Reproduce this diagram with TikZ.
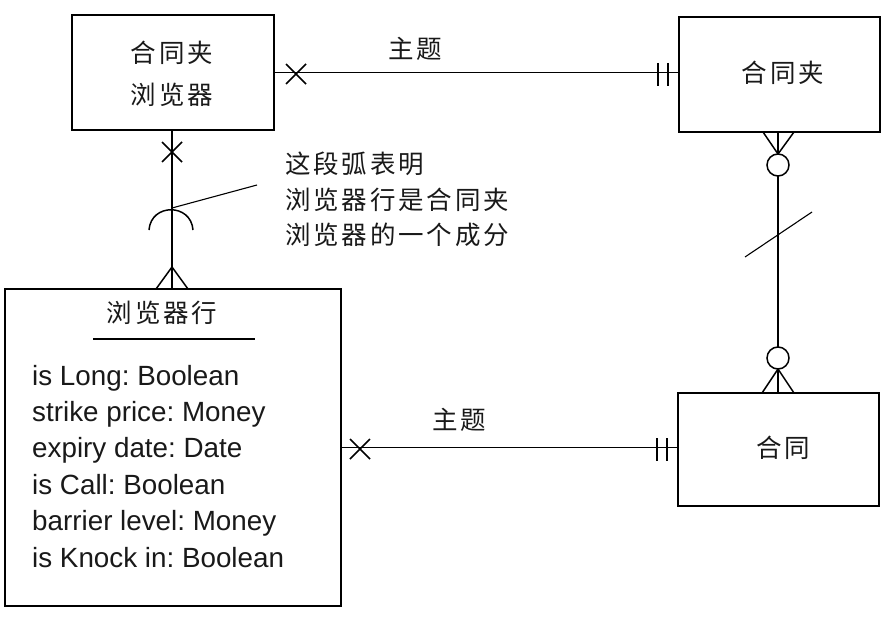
\documentclass[tikz,border=0pt]{standalone}
\usepackage{fontspec}
\setmainfont{Liberation Sans}
\newfontfamily\cjk[LetterSpace=11]{Noto Sans CJK SC}
\frenchspacing
\begin{document}
\begin{tikzpicture}[x=1pt,y=-1pt,
  ent/.style={draw,line width=1.7pt,rectangle,inner sep=0pt},
  cn/.style={font=\cjk\fontsize{25.5}{28}\selectfont,inner sep=0pt,text=black!90},
  attr/.style={font=\fontsize{27.8}{33}\selectfont,anchor=base west,inner sep=0pt,text=black!90},
  conn/.style={line width=1.5pt},
  mk/.style={line width=1.5pt}]
\useasboundingbox (0,0) rectangle (888,618);
% entities
\node[ent,minimum width=202pt,minimum height=115pt] (b1) at (173,72.5) {};
\node[ent,minimum width=201pt,minimum height=115pt] (b2) at (779.5,74.5) {};
\node[ent,minimum width=201pt,minimum height=113pt] (b3) at (778.5,449.5) {};
\node[ent,minimum width=336pt,minimum height=317pt] (b4) at (173,447.5) {};
% texts
\node[cn] (t1a) at (172,53) {合同夹};
\node[cn] (t1b) at (172,95) {浏览器};
\node[cn] (t2) at (783,73) {合同夹};
\node[cn] (t3) at (783,448) {合同};
\node[cn] (t4) at (162,313) {浏览器行};
\draw[line width=1.6pt] (93,339) -- (255,339);
\foreach \t [count=\i] in {is Long: Boolean,strike price: Money,expiry date: Date,is Call: Boolean,barrier level: Money,is Knock in: Boolean}
  \node[attr] (a\i) at (32,{385+36.4*(\i-1)}) {\t};
% labels
\node[cn] (l1) at (415,49) {主题};
\node[cn] (l2) at (459,420) {主题};
\node[cn,anchor=west] (n1) at (285,164) {这段弧表明};
\node[cn,anchor=west] (n2) at (285,200) {浏览器行是合同夹};
\node[cn,anchor=west] (n3) at (285,235) {浏览器的一个成分};
% connectors
\draw[conn] (b1.east) -- (b1.east -| b2.west);
\draw[conn] (b4.east) -- (b4.east -| b3.west);
\draw[conn] (b1.south -| 172,0) -- (b4.north -| 172,0);
\draw[conn] (b2.south -| 778,0) -- (b3.north -| 778,0);
% top connector markers
\draw[mk] (286,64) -- (306,84) (286,84) -- (306,64);
\draw[mk] (658,63) -- (658,86) (668,63) -- (668,86);
% bottom connector markers
\draw[mk] (350,439) -- (370,459) (350,459) -- (370,439);
\draw[mk] (657,438) -- (657,461) (667,438) -- (667,461);
% left vertical markers
\draw[mk] (162,142) -- (182,162) (162,162) -- (182,142);
\draw[mk] (149,230) .. controls (151,203) and (191,203) .. (193,230);
\draw[line width=1.1pt] (172,208) -- (257,185);
\draw[mk] (156,289) -- (172,267) -- (188,289);
% right vertical markers
\draw[mk] (763,132) -- (778,154) -- (794,132);
\draw[mk,fill=white] (778,165) circle[radius=11];
\draw[line width=1.1pt] (745,257) -- (812,212);
\draw[mk,fill=white] (778,358) circle[radius=11];
\draw[mk] (762,393) -- (778,369) -- (794,393);
\end{tikzpicture}
\end{document}
